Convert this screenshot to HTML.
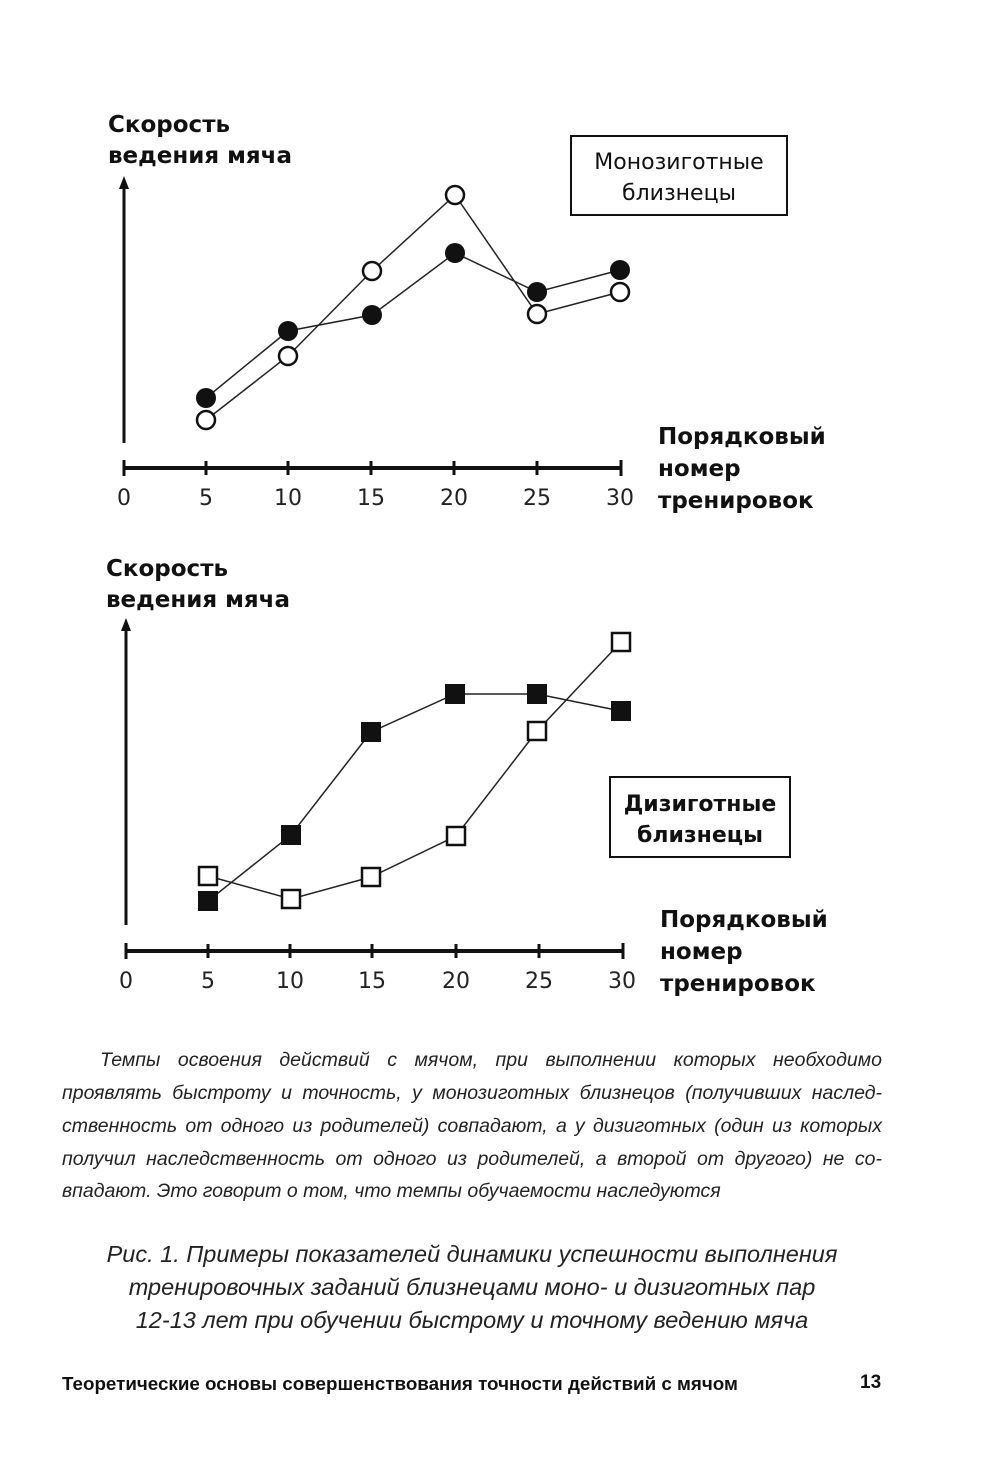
<!DOCTYPE html>
<html><head><meta charset="utf-8"><style>
body{margin:0;background:#fff;}
.wrap{position:relative;width:1000px;height:1477px;overflow:hidden;background:#fff;font-family:"DejaVu Sans","Liberation Sans",sans-serif;}
svg text{font-family:"DejaVu Sans","Liberation Sans",sans-serif;}
.ln{position:absolute;left:62px;width:820px;font-family:"Liberation Sans",sans-serif;font-style:italic;font-size:19.5px;color:#222;text-align:justify;text-align-last:justify;white-space:nowrap;}
</style></head><body><div class="wrap">
<svg width="1000" height="1040" style="position:absolute;left:0;top:0">
<g font-weight="bold" font-size="23" fill="#111">
<text x="108" y="132">Скорость</text><text x="108" y="163">ведения мяча</text>
<text x="658" y="444">Порядковый</text><text x="658" y="476">номер</text><text x="658" y="508">тренировок</text>
<text x="106" y="576">Скорость</text><text x="106" y="607">ведения мяча</text>
<text x="660" y="927">Порядковый</text><text x="660" y="959">номер</text><text x="660" y="991">тренировок</text>
</g>
<rect x="571" y="136" width="216" height="79" fill="none" stroke="#111" stroke-width="2"/>
<text x="679" y="169" font-size="22" text-anchor="middle" fill="#111">Монозиготные</text>
<text x="679" y="200" font-size="22" text-anchor="middle" fill="#111">близнецы</text>
<rect x="610" y="777" width="180" height="80" fill="none" stroke="#111" stroke-width="2"/>
<text x="700" y="811" font-size="22" text-anchor="middle" font-weight="bold" fill="#111">Дизиготные</text>
<text x="700" y="842" font-size="22" text-anchor="middle" font-weight="bold" fill="#111">близнецы</text>
<line x1="124" y1="186" x2="124" y2="443" stroke="#111" stroke-width="3"/>
<polygon points="124,176 119,189 129,189" fill="#111"/>
<line x1="124" y1="468" x2="622" y2="468" stroke="#111" stroke-width="4"/>
<g stroke="#111" stroke-width="3">
<line x1="124" y1="460" x2="124" y2="476"/><line x1="206" y1="461" x2="206" y2="475"/><line x1="288" y1="461" x2="288" y2="475"/><line x1="371" y1="461" x2="371" y2="475"/><line x1="454" y1="461" x2="454" y2="475"/><line x1="537" y1="461" x2="537" y2="475"/><line x1="621" y1="460" x2="621" y2="476"/>
</g>
<g font-size="22" text-anchor="middle" fill="#222">
<text x="124" y="505">0</text><text x="206" y="505">5</text><text x="288" y="505">10</text><text x="371" y="505">15</text><text x="454" y="505">20</text><text x="537" y="505">25</text><text x="620" y="505">30</text>
</g>
<polyline points="206,398 288,331 372,315 455,253 537,292 620,270" fill="none" stroke="#222" stroke-width="1.5"/>
<polyline points="206,420 288,356 372,271 455,195 537,314 620,292" fill="none" stroke="#222" stroke-width="1.5"/>
<g fill="#111"><circle cx="206" cy="398" r="10"/><circle cx="288" cy="331" r="10"/><circle cx="372" cy="315" r="10"/><circle cx="455" cy="253" r="10"/><circle cx="537" cy="292" r="10"/><circle cx="620" cy="270" r="10"/></g>
<g fill="#fff" stroke="#111" stroke-width="2.5"><circle cx="206" cy="420" r="9"/><circle cx="288" cy="356" r="9"/><circle cx="372" cy="271" r="9"/><circle cx="455" cy="195" r="9"/><circle cx="537" cy="314" r="9"/><circle cx="620" cy="292" r="9"/></g>
<line x1="126" y1="628" x2="126" y2="925" stroke="#111" stroke-width="3"/>
<polygon points="126,618 121,631 131,631" fill="#111"/>
<line x1="126" y1="951" x2="624" y2="951" stroke="#111" stroke-width="4"/>
<g stroke="#111" stroke-width="3">
<line x1="126" y1="943" x2="126" y2="959"/><line x1="208" y1="944" x2="208" y2="958"/><line x1="290" y1="944" x2="290" y2="958"/><line x1="372" y1="944" x2="372" y2="958"/><line x1="456" y1="944" x2="456" y2="958"/><line x1="539" y1="944" x2="539" y2="958"/><line x1="623" y1="943" x2="623" y2="959"/>
</g>
<g font-size="22" text-anchor="middle" fill="#222">
<text x="126" y="988">0</text><text x="208" y="988">5</text><text x="290" y="988">10</text><text x="372" y="988">15</text><text x="456" y="988">20</text><text x="539" y="988">25</text><text x="622" y="988">30</text>
</g>
<polyline points="208,901 291,835 371,732 455,694 537,694 621,711" fill="none" stroke="#222" stroke-width="1.5"/>
<polyline points="208,876 291,899 371,877 456,836 537,731 621,642" fill="none" stroke="#222" stroke-width="1.5"/>
<g fill="#111"><rect x="198" y="891" width="20" height="20"/><rect x="281" y="825" width="20" height="20"/><rect x="361" y="722" width="20" height="20"/><rect x="445" y="684" width="20" height="20"/><rect x="527" y="684" width="20" height="20"/><rect x="611" y="701" width="20" height="20"/></g>
<g fill="#fff" stroke="#111" stroke-width="2.5"><rect x="199" y="867" width="18" height="18"/><rect x="282" y="890" width="18" height="18"/><rect x="362" y="868" width="18" height="18"/><rect x="447" y="827" width="18" height="18"/><rect x="528" y="722" width="18" height="18"/><rect x="612" y="633" width="18" height="18"/></g>
</svg>
<div class="ln" style="top:1049px;left:100px;width:782px">Темпы освоения действий с мячом, при выполнении которых необходимо</div>
<div class="ln" style="top:1082px">проявлять быстроту и точность, у монозиготных близнецов (получивших наслед-</div>
<div class="ln" style="top:1115px">ственность от одного из родителей) совпадают, а у дизиготных (один из которых</div>
<div class="ln" style="top:1148px">получил наследственность от одного из родителей, а второй от другого) не со-</div>
<div class="ln" style="top:1180px;text-align:left;text-align-last:left">впадают. Это говорит о том, что темпы обучаемости наследуются</div>
<div style="position:absolute;left:2px;width:940px;top:1238px;text-align:center;font-family:'Liberation Sans',sans-serif;font-style:italic;font-size:23.5px;line-height:33px;color:#222">Рис. 1. Примеры показателей динамики успешности выполнения<br>тренировочных заданий близнецами моно- и дизиготных пар<br>12-13 лет при обучении быстрому и точному ведению мяча</div>
<div style="position:absolute;left:62px;top:1373px;font-family:'Liberation Sans',sans-serif;font-weight:bold;font-size:18.8px;color:#111">Теоретические основы совершенствования точности действий с мячом</div>
<div style="position:absolute;left:860px;top:1372px;font-family:'Liberation Sans',sans-serif;font-weight:bold;font-size:19px;color:#111">13</div>
</div></body></html>
